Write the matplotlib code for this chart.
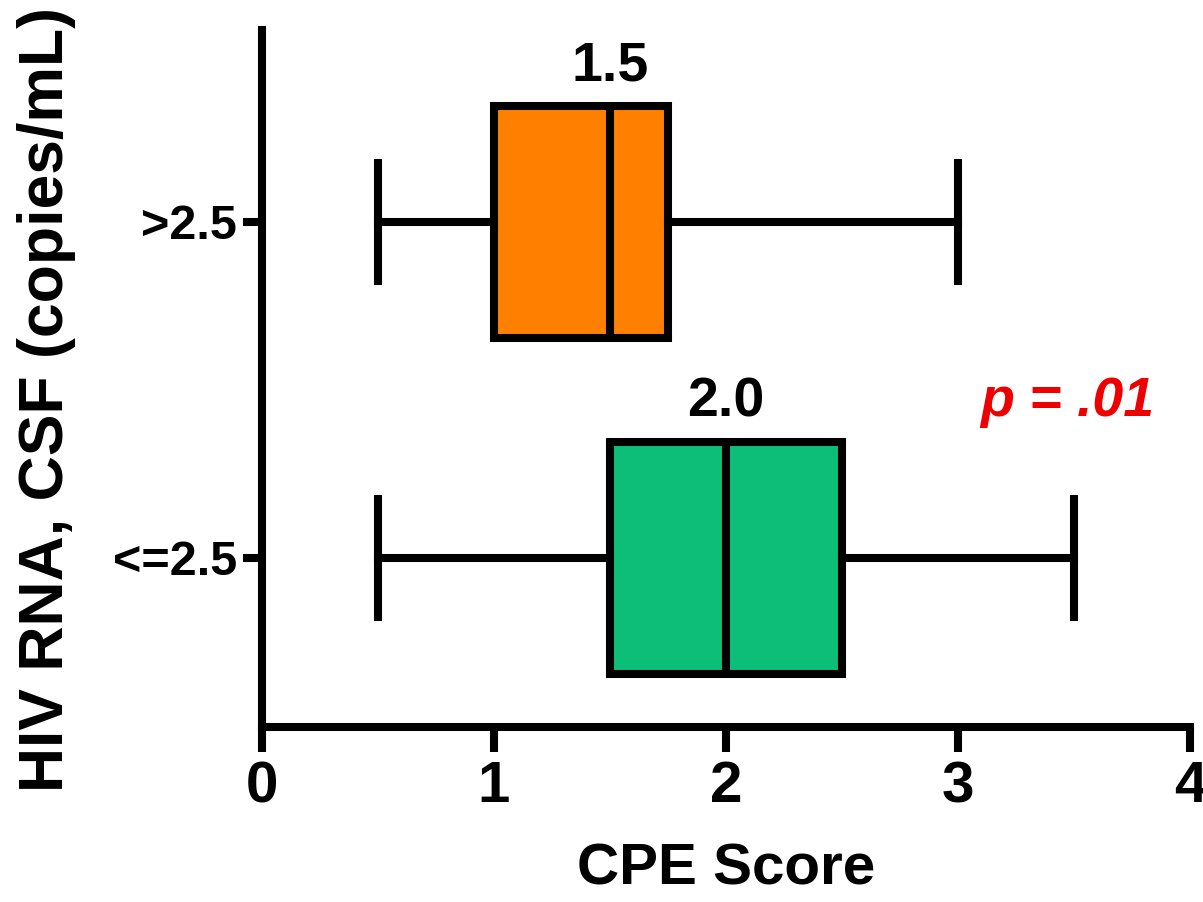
import matplotlib
matplotlib.use("Agg")
import matplotlib.pyplot as plt
from matplotlib import font_manager

# data
groups = ["<=2.5", ">2.5"]
whisker_lo = [0.5, 0.5]
q1 = [1.5, 1.0]
median = [2.0, 1.5]
q3 = [2.5, 1.75]
whisker_hi = [3.5, 3.0]
box_colors = ["#0DBE79", "#FF8000"]
median_labels = ["2.0", "1.5"]
p_text = "p = .01"

names = {f.name for f in font_manager.fontManager.ttflist}
fam = ["Liberation Sans Narrow", "Liberation Sans", "DejaVu Sans"]
fam = [f for f in fam if f in names] or ["DejaVu Sans"]
wide = [f for f in ["Liberation Sans", "DejaVu Sans"] if f in names]
plt.rcParams["font.family"] = fam
plt.rcParams["font.weight"] = "bold"

fig = plt.figure(figsize=(12.03, 9.02), dpi=100)
ax = fig.add_axes([262 / 1203, 1 - 727 / 902, (1190 - 262) / 1203, (727 - 30) / 902])

positions = [1, 2]
stats = []
for i in range(len(groups)):
    stats.append({
        "whislo": whisker_lo[i], "q1": q1[i], "med": median[i],
        "q3": q3[i], "whishi": whisker_hi[i], "fliers": [], "label": groups[i],
    })

lw = 5.8
bp = ax.bxp(
    stats, positions=positions, vert=False, widths=0.69, capwidths=0.35,
    patch_artist=True, showfliers=False,
    boxprops=dict(linewidth=lw, edgecolor="black"),
    medianprops=dict(linewidth=lw, color="black"),
    whiskerprops=dict(linewidth=lw, color="black"),
    capprops=dict(linewidth=lw, color="black"),
)
for patch, c in zip(bp["boxes"], box_colors):
    patch.set_facecolor(c)

for pos, m, lab in zip(positions, median, median_labels):
    ax.text(m, pos + 0.69 / 2 + 0.04, lab, ha="center", va="bottom",
            fontsize=40, fontweight="bold")

ax.text(3.47, 1.464, p_text, color="#EE0000", fontsize=40,
        fontweight="bold", fontstyle="italic", ha="center", va="center")

ax.set_xlim(0, 4)
ax.set_ylim(0.497, 2.571)
ax.set_xticks([0, 1, 2, 3, 4])
ax.set_yticks(positions)
ax.set_yticklabels(groups, family=wide, fontsize=35)

for s in ["top", "right"]:
    ax.spines[s].set_visible(False)
for s in ["left", "bottom"]:
    ax.spines[s].set_linewidth(lw)
ax.tick_params(axis="x", length=18, width=lw, labelsize=42, pad=6)
ax.tick_params(axis="y", length=14, width=lw, pad=4)

ax.set_xlabel("CPE Score", fontsize=42, fontweight="bold", labelpad=20)
ax.set_ylabel("HIV RNA, CSF (copies/mL)", fontsize=45, fontweight="bold")
ax.yaxis.set_label_coords(-0.20, 0.47)

fig.savefig("out.png", dpi=100)
